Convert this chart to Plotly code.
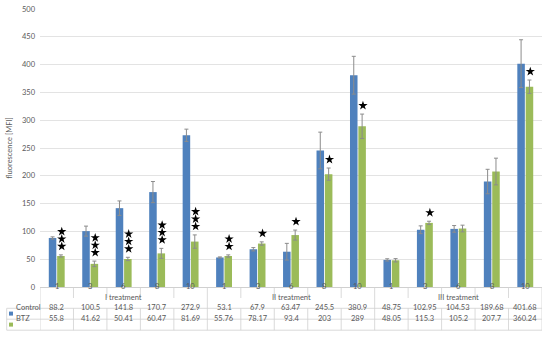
import plotly.graph_objects as go

# ---------------- data ----------------
groups = ["I treatment", "II treatment", "III treatment"]
hours = ["1", "3", "6", "8", "10"]
control = [88.2, 100.5, 141.8, 170.7, 272.9,
           53.1, 67.9, 63.47, 245.5, 380.9,
           48.75, 102.95, 104.53, 189.68, 401.68]
btz = [55.8, 41.62, 50.41, 60.47, 81.69,
       55.76, 78.17, 93.4, 203, 289,
       48.05, 115.3, 105.2, 207.7, 360.24]
control_err = [2, 9, 13, 19, 11,
               1, 3, 15, 33, 34,
               2, 7, 6, 22, 43]
btz_err = [2, 5, 3, 9, 12,
           2, 3, 9, 11, 22,
           3, 3, 6, 24, 12]
control_txt = ["88.2", "100.5", "141.8", "170.7", "272.9",
               "53.1", "67.9", "63.47", "245.5", "380.9",
               "48.75", "102.95", "104.53", "189.68", "401.68"]
btz_txt = ["55.8", "41.62", "50.41", "60.47", "81.69",
           "55.76", "78.17", "93.4", "203", "289",
           "48.05", "115.3", "105.2", "207.7", "360.24"]
stars = [3, 3, 3, 3, 3,
         2, 1, 1, 1, 1,
         0, 1, 0, 0, 1]
series_names = ["Control", "BTZ"]
colors = ["#4F81BD", "#9BBB59"]

# ---------------- figure ----------------
n = len(control)
xs = list(range(n))
W, H = 550, 338
ml, mr, mt, mb = 40, 8, 9, 51
ph = H - mt - mb
pw = W - ml - mr
YMAX = 500
unit_px = ph / YMAX

def py(pix):  # pixel y -> paper y
    return (H - mb - pix) / ph

def px(pix):  # pixel x -> paper x
    return (pix - ml) / pw

FONT = "Lato, Carlito, Calibri, sans-serif"
TXT = "#595959"
LINE = "#d0d0d0"

fig = go.Figure()
fig.add_bar(x=xs, y=control, name=series_names[0], marker_color=colors[0],
            marker_line_width=0,
            error_y=dict(type="data", array=control_err, color="#8c8c8c",
                         thickness=1, width=2))
fig.add_bar(x=xs, y=btz, name=series_names[1], marker_color=colors[1],
            marker_line_width=0,
            error_y=dict(type="data", array=btz_err, color="#8c8c8c",
                         thickness=1, width=2))

# significance stars above BTZ bars (stacked markers)
sx, sy = [], []
for i in range(n):
    for k in range(stars[i]):
        sx.append(i + 0.15)
        sy.append(btz[i] + btz_err[i] + (8.5 + k * 7.4) / unit_px)
fig.add_scatter(x=sx, y=sy, mode="markers", hoverinfo="skip",
                marker=dict(symbol="star", size=7, color="black",
                            line_width=0))

ann = []
shapes = []
# table texts
ng = len(hours)
for i in range(n):
    ann.append(dict(x=i, y=py(292.5), xref="x", yref="paper", text=hours[i % ng],
                    showarrow=False, font=dict(size=7.5, color=TXT, family=FONT)))
    ann.append(dict(x=i, y=py(313.6), xref="x", yref="paper", text=control_txt[i],
                    showarrow=False, font=dict(size=7.5, color=TXT, family=FONT)))
    ann.append(dict(x=i, y=py(324.6), xref="x", yref="paper", text=btz_txt[i],
                    showarrow=False, font=dict(size=7.5, color=TXT, family=FONT)))
for g, name in enumerate(groups):
    ann.append(dict(x=g * ng + (ng - 1) / 2, y=py(303.5), xref="x", yref="paper",
                    text=name, showarrow=False,
                    font=dict(size=7.5, color=TXT, family=FONT)))
for r, (name, yy) in enumerate(zip(series_names, [313.6, 324.6])):
    ann.append(dict(x=px(14), y=py(yy), xref="paper", yref="paper", text=name,
                    xanchor="left", showarrow=False,
                    font=dict(size=7.5, color=TXT, family=FONT)))
    shapes.append(dict(type="rect", xref="paper", yref="paper",
                       x0=px(9), x1=px(13), y0=py(yy + 2), y1=py(yy - 2),
                       fillcolor=colors[r], line_width=0))

# table lines
lw = 0.8
for yy in [308.3, 319.2, 330.2]:
    shapes.append(dict(type="line", xref="paper", yref="paper",
                       x0=px(6.7), x1=1, y0=py(yy), y1=py(yy),
                       line=dict(color=LINE, width=lw)))
shapes.append(dict(type="line", xref="paper", yref="paper",
                   x0=px(6.7), x1=px(6.7), y0=py(308.3), y1=py(330.2),
                   line=dict(color=LINE, width=lw)))
for b in range(n + 1):
    xb = b - 0.5
    if b % ng == 0:
        shapes.append(dict(type="line", xref="x", yref="paper", x0=xb, x1=xb,
                           y0=0, y1=py(330.2), line=dict(color=LINE, width=lw)))
    else:
        shapes.append(dict(type="line", xref="x", yref="paper", x0=xb, x1=xb,
                           y0=0, y1=py(298), line=dict(color=LINE, width=lw)))
        shapes.append(dict(type="line", xref="x", yref="paper", x0=xb, x1=xb,
                           y0=py(308.3), y1=py(330.2),
                           line=dict(color=LINE, width=lw)))

fig.update_layout(
    width=W, height=H,
    margin=dict(l=ml, r=mr, t=mt, b=mb, autoexpand=False),
    paper_bgcolor="white", plot_bgcolor="white",
    barmode="group", bargap=0.5, bargroupgap=0.1,
    showlegend=False,
    annotations=ann, shapes=shapes,
    font=dict(family=FONT, color=TXT, size=7.5),
    xaxis=dict(range=[-0.5, n - 0.5], showticklabels=False, showgrid=False,
               zeroline=False, showline=True, linecolor=LINE, linewidth=lw,
               fixedrange=True, automargin=False),
    yaxis=dict(range=[0, YMAX], dtick=50, showgrid=True, gridcolor="#e3e3e3",
               gridwidth=1, zeroline=False, showline=False, automargin=False,
               tickfont=dict(size=7.5, color=TXT, family=FONT),
               ticklabelstandoff=4,
               title=dict(text="fluorescence [MFI]", standoff=8,
                          font=dict(size=7.5, color=TXT, family=FONT))),
)

fig.write_html(
    "out.html",
    config={"displayModeBar": False},
    post_script="document.body.style.margin='0';document.body.style.overflow='hidden';",
)
